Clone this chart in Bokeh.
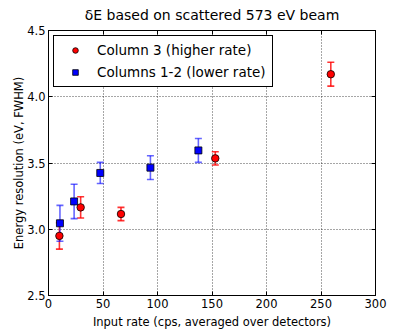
from bokeh.plotting import figure
from bokeh.models import (ColumnDataSource, Whisker, TeeHead, Legend, LegendItem,
                          LinearAxis, FixedTicker, Range1d, PrintfTickFormatter,
                          CustomLabelingPolicy, Title)
from bokeh.embed import file_html
from bokeh.resources import INLINE

# Data
col3_rate = [10.0, 29.5, 66.5, 153.0, 259.0]
col3_res = [2.95, 3.165, 3.115, 3.535, 4.17]
col3_err = [0.10, 0.08, 0.05, 0.05, 0.09]

col12_rate = [10.5, 23.5, 47.5, 93.5, 137.5]
col12_res = [3.045, 3.21, 3.425, 3.465, 3.595]
col12_err = [0.135, 0.13, 0.08, 0.09, 0.09]

x_ticks = [0, 50, 100, 150, 200, 250, 300]
y_ticks = [2.5, 3.0, 3.5, 4.0, 4.5]

FONT = "DejaVu Sans"

p = figure(width=399, height=332, output_backend="svg", toolbar_location=None,
           x_range=Range1d(0, 300), y_range=Range1d(2.5, 4.5), title=None,
           min_border_left=48, min_border_right=24, min_border_top=27, min_border_bottom=37)

p.outline_line_color = "black"
p.outline_line_width = 1
p.background_fill_color = "white"

for ax in (p.xaxis[0], p.yaxis[0]):
    ax.major_tick_in = 4
    ax.major_tick_out = 0
    ax.minor_tick_line_color = None
    ax.axis_line_color = "black"
    ax.major_label_text_font = FONT
    ax.major_label_text_font_size = "11.5px"
    ax.major_label_text_color = "black"
    ax.axis_label_text_font = FONT
    ax.axis_label_text_font_size = "11.5px"
    ax.axis_label_text_font_style = "normal"
    ax.axis_label_text_color = "black"
    ax.major_label_standoff = 3

p.xaxis.ticker = FixedTicker(ticks=x_ticks)
p.yaxis.ticker = FixedTicker(ticks=y_ticks)
p.yaxis.formatter = PrintfTickFormatter(format="%.1f")
p.xaxis.axis_label = "Input rate (cps, averaged over detectors)"
p.yaxis.axis_label = "Energy resolution (eV, FWHM)"
p.xaxis.axis_label_standoff = 4
p.yaxis.axis_label_standoff = -2

top_ax = LinearAxis(ticker=FixedTicker(ticks=x_ticks),
                    major_label_policy=CustomLabelingPolicy(code="return []"),
                    major_label_text_font_size="1px",
                    major_tick_in=4, major_tick_out=0, minor_tick_line_color=None,
                    major_label_standoff=0, axis_line_color="black")
right_ax = LinearAxis(ticker=FixedTicker(ticks=y_ticks),
                      major_label_policy=CustomLabelingPolicy(code="return []"),
                      major_label_text_font_size="1px",
                      major_tick_in=4, major_tick_out=0, minor_tick_line_color=None,
                      major_label_standoff=0, axis_line_color="black")
p.add_layout(top_ax, "above")
p.add_layout(right_ax, "right")

title = Title(text="\u03b4E based on scattered 573 eV beam", align="center",
              text_font=FONT, text_font_size="14px", text_font_style="normal",
              text_color="black", standoff=0, offset=0, padding=4)
p.add_layout(title, "above")

for g in (p.xgrid[0], p.ygrid[0]):
    g.grid_line_color = "black"
    g.grid_line_dash = "1 2"
    g.grid_line_width = 1
    g.grid_line_alpha = 0.7
p.xgrid.ticker = FixedTicker(ticks=x_ticks)
p.ygrid.ticker = FixedTicker(ticks=y_ticks)

src3 = ColumnDataSource(dict(x=col3_rate, y=col3_res,
                             lo=[a - b for a, b in zip(col3_res, col3_err)],
                             hi=[a + b for a, b in zip(col3_res, col3_err)]))
src12 = ColumnDataSource(dict(x=col12_rate, y=col12_res,
                              lo=[a - b for a, b in zip(col12_res, col12_err)],
                              hi=[a + b for a, b in zip(col12_res, col12_err)]))

for src, col, alpha in ((src3, "#ff0000", 0.8), (src12, "#0000ff", 0.6)):
    w = Whisker(source=src, base="x", lower="lo", upper="hi", dimension="height",
                line_color=col, line_alpha=alpha, line_width=1.6,
                upper_head=TeeHead(size=7, line_color=col, line_alpha=alpha, line_width=1.6),
                lower_head=TeeHead(size=7, line_color=col, line_alpha=alpha, line_width=1.6))
    p.add_layout(w)

r3 = p.scatter("x", "y", source=src3, marker="circle", size=7.5,
               fill_color="#ff0000", line_color="black", line_width=0.8)
r12 = p.scatter("x", "y", source=src12, marker="square", size=7,
                fill_color="#0000ff", line_color="black", line_width=0.8)

legend = Legend(items=[LegendItem(label="Column 3 (higher rate)", renderers=[r3]),
                       LegendItem(label="Columns 1-2 (lower rate)", renderers=[r12])],
                location="top_left")
legend.label_text_font = FONT
legend.label_text_font_size = "13.5px"
legend.label_text_color = "black"
legend.border_line_color = "black"
legend.border_line_width = 1
legend.border_line_alpha = 1
legend.background_fill_alpha = 1
legend.glyph_width = 30
legend.glyph_height = 14
legend.label_height = 14
legend.spacing = 6
legend.padding = 6
legend.margin = 5
legend.label_standoff = 7
p.add_layout(legend)

open("out.html", "w").write(file_html(p, INLINE))
